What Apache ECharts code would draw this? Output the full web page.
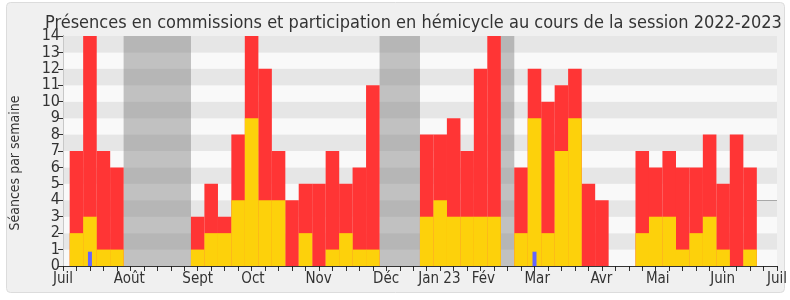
<!DOCTYPE html>
<html><head><meta charset="utf-8">
<script src="https://cdn.jsdelivr.net/npm/echarts@6/dist/echarts.min.js"></script>
<style>html,body{margin:0;padding:0;background:#fff}#c{width:790px;height:300px}</style>
</head><body><div id="c"></div>
<script>
// week index (bar centre) for each weekly value
const weeks = [1,2,3,4,5,6,7,8,9,10,11,12,13,14,15,16,17,18,19,20,21,22,23,24,25,26,27,28,29,30,31,32,33,34,35,36,37,38,39,40,41,42,43,44,45,46,47,48,49,50,51,52];
// total séances (commissions + hémicycle), red
const totals = [7,14,7,6,0,0,0,0,0,3,5,3,8,14,12,7,4,5,5,7,5,6,11,0,0,0,8,8,9,7,12,14,0,6,12,10,11,12,5,4,0,0,7,6,7,6,6,8,5,8,6,0];
// séances en hémicycle, yellow
const hemicycle = [2,3,1,1,0,0,0,0,0,1,2,2,4,9,4,4,0,2,0,1,2,1,1,0,0,0,3,4,3,3,3,3,0,2,9,2,7,9,0,0,0,0,2,3,3,1,2,3,1,0,1,0];
// questions (thin blue)
const questions = [0,0.87,0,0,0,0,0,0,0,0,0,0,0,0,0,0,0,0,0,0,0,0,0,0,0,0,0,0,0,0,0,0,0,0,0.87,0,0,0,0,0,0,0,0,0,0,0,0,0,0,0,0,0];
// vacation weeks (first, last)
const vacations = [[5,9],[24,26],[33,33]];
// month tick labels and their week positions
const monthLabels = ['Juil','Août','Sept','Oct','Nov','Déc','Jan 23','Fév','Mar','Avr','Mai','Juin','Juil'];
const monthWeeks = [0,4.92,10,14.1,18.97,23.98,27.94,31.2,35.2,39.97,44.15,48.97,53];
const yTicks = [0,1,2,3,4,5,6,7,8,9,10,11,12,13,14];
const refLevel = 4;

const FONT = 'DejaVu Sans Condensed';
const pair = arr => weeks.map((w,i)=>[w,arr[i]]).filter(d=>d[1]>0);
const weekTicks = []; for (let i=0;i<=53;i++) weekTicks.push(i);

const chart = echarts.init(document.getElementById('c'), null, {renderer:'canvas'});
const xBase = {type:'value', min:0, max:53, interval:1};
chart.setOption({
  animation:false,
  backgroundColor:'#ffffff',
  textStyle:{fontFamily:FONT},
  title:{text:'Présences en commissions et participation en hémicycle au cours de la session 2022-2023',
    left:40, top:9, textStyle:{fontFamily:FONT, fontSize:18, fontWeight:'normal', color:'#333'}},
  graphic:[{type:'rect', z:-10, shape:{x:6.5,y:2.5,width:778,height:290,r:4},
    style:{fill:'#f0f0f0', stroke:'#dcdcdc', lineWidth:1}}],
  grid:{left:61, right:10, top:36, bottom:34, containLabel:false},
  xAxis:[
    Object.assign({}, xBase, {position:'bottom',
      axisLine:{show:true, lineStyle:{color:'#333', width:1}},
      axisTick:{show:true, length:5, customValues:weekTicks, lineStyle:{color:'#333'}},
      axisLabel:{show:true, customValues:monthWeeks, fontSize:15, color:'#333', margin:6, fontFamily:FONT,
        formatter:(v)=>{const i=monthWeeks.findIndex(m=>Math.abs(m-v)<1e-6); return i>=0?monthLabels[i]:'';}},
      splitLine:{show:false}}),
    Object.assign({}, xBase, {position:'top',
      axisLine:{show:false}, axisTick:{show:true, inside:true, length:2, customValues:weekTicks, lineStyle:{color:'#222'}},
      axisLabel:{show:false}, splitLine:{show:false}}),
    Object.assign({}, xBase, {show:false}),
    Object.assign({}, xBase, {show:false})
  ],
  yAxis:[
    {type:'value', min:0, max:14, interval:1, position:'left',
      name:'Séances par semaine', nameLocation:'middle', nameGap:41, nameRotate:90,
      nameTextStyle:{fontSize:14, color:'#333', fontFamily:FONT, padding:[0,24,0,0]},
      axisLine:{show:true, lineStyle:{color:'#333'}},
      axisTick:{show:true, length:5, lineStyle:{color:'#333'}},
      axisLabel:{fontSize:16, color:'#333', margin:3, fontFamily:FONT,
        formatter:(v)=> yTicks.includes(v)? String(v):''},
      splitLine:{show:false},
      splitArea:{show:true, areaStyle:{color:['#f9f9f9','#e6e6e6']}}},
    {type:'value', min:0, max:14, interval:1, position:'right',
      axisLine:{show:true, lineStyle:{color:'#c8c8c8'}}, axisTick:{show:false}, axisLabel:{show:false},
      splitLine:{show:false}}
  ],
  series:[
    {type:'bar', name:'Commissions', xAxisIndex:0, yAxisIndex:0, barWidth:13.57, z:2,
      itemStyle:{color:'#ff3535'}, data:pair(totals),
      markArea:{silent:true, itemStyle:{color:'rgba(125,125,125,0.45)'},
        data: vacations.map(v=>[{xAxis:v[0]-0.5},{xAxis:v[1]+0.5}])},
      markLine:{silent:true, symbol:'none', label:{show:false}, lineStyle:{color:'#a8a8a8', type:'solid', width:1},
        data:[[{coord:[51.5,refLevel]},{coord:[53,refLevel]}]]}},
    {type:'bar', name:'Hémicycle', xAxisIndex:2, yAxisIndex:0, barWidth:13.57, z:3,
      itemStyle:{color:'#fdd10b'}, data:pair(hemicycle)},
    {type:'bar', name:'Questions', xAxisIndex:3, yAxisIndex:0, barWidth:4, z:4,
      itemStyle:{color:'#6464ff'}, data:pair(questions)}
  ]
});
</script></body></html>
